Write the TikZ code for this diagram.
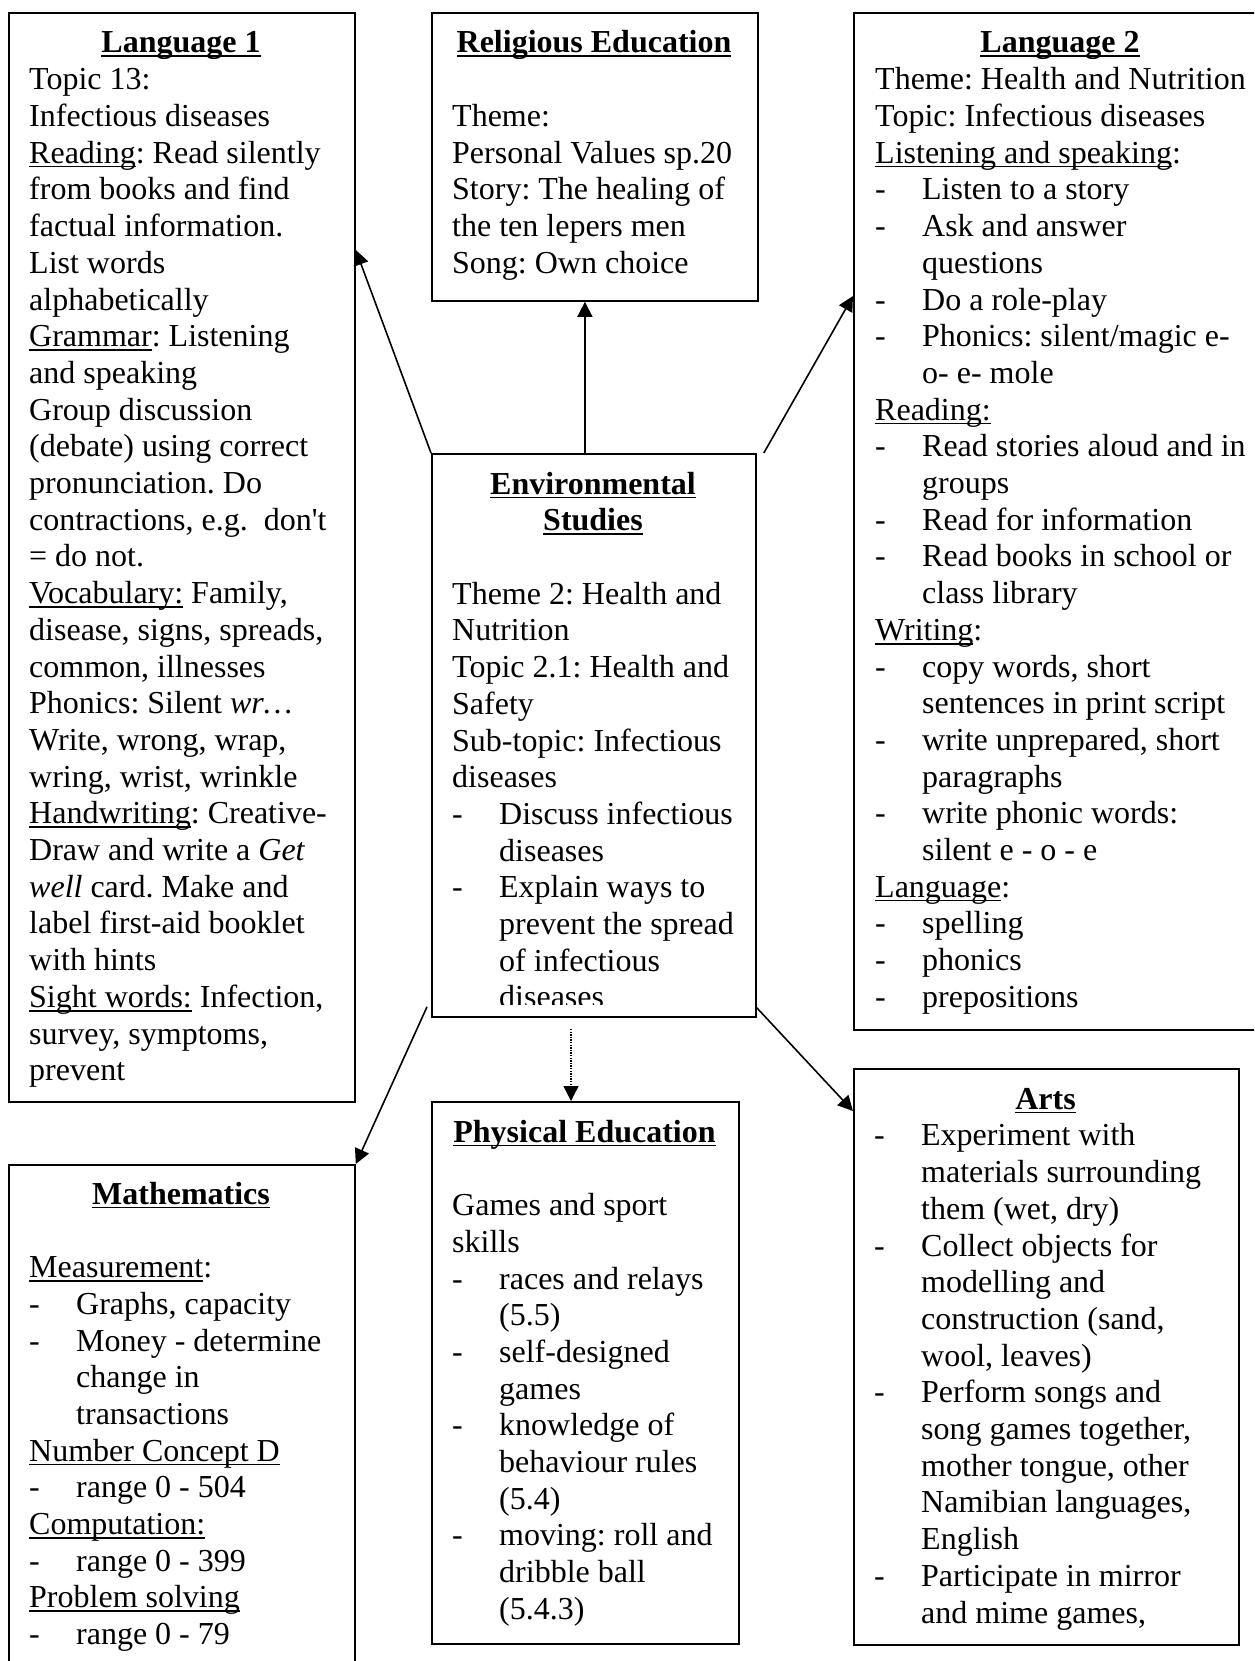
\documentclass[tikz,border=0pt]{standalone}
\usepackage{fontspec}
\setmainfont{Liberation Serif}[Ligatures=TeXOff]
\usetikzlibrary{arrows.meta}

\newcommand{\bodyfont}{\fontsize{32}{36.7}\selectfont\frenchspacing}
\newcommand{\normalspaces}{\spaceskip=0.25em plus 0.1em minus 0.05em\xspaceskip=\spaceskip\relax}
\newsavebox{\ulinebox}
\newcommand{\ulined}[1]{\leavevmode\sbox{\ulinebox}{#1}\rlap{\rule[-4.2pt]{\wd\ulinebox}{1.7pt}}\usebox{\ulinebox}}
\newcommand{\heading}[1]{\ulined{\textbf{#1}}}
\newcommand{\dashitem}[1]{\makebox[47pt][l]{-}#1}
\newcommand{\contline}{\hspace*{47pt}}

\tikzset{
  panel/.style={draw, line width=1.8pt, anchor=north west, inner sep=0pt},
  head/.style={anchor=base, inner sep=0pt, font=\bodyfont},
  body/.style={anchor=north west, inner sep=0pt, align=left, text width=420pt, font=\bodyfont,
               execute at begin node=\normalspaces},
  arr/.style={line width=1.6pt, -{Triangle[length=15pt,width=15pt]}},
  dotarr/.style={line width=1.4pt, dash pattern=on 1.4pt off 1.2pt, -{Triangle[length=15pt,width=15pt]}}
}

\begin{document}
\begin{tikzpicture}[x=1pt, y=-1pt]
\clip (0,0) rectangle (1254,1661);
\fill[white] (0,0) rectangle (1254,1661);

% ---------- panels ----------
\node[panel, minimum width=346pt, minimum height=1089pt] (l1)   at (8,12) {};
\node[panel, minimum width=326pt, minimum height=288pt]  (re)   at (431,12) {};
\node[panel, minimum width=414pt, minimum height=1017pt] (l2)   at (853,12) {};
\node[panel, minimum width=324pt, minimum height=563pt]  (env)  at (431,453) {};
\node[panel, minimum width=346pt, minimum height=520pt]  (math) at (8,1164) {};
\node[panel, minimum width=307pt, minimum height=542pt]  (pe)   at (431,1101) {};
\node[panel, minimum width=385pt, minimum height=576pt]  (arts) at (853,1068) {};

% ---------- Language 1 ----------
\node[head] (l1h) at (181,53) {\heading{Language 1}};
\node[body] (l1t) at (29,64) {\strut Topic 13:\\
Infectious diseases\\
\ulined{Reading}: Read silently\\
from books and find\\
factual information.\\
List words\\
alphabetically\\
\ulined{Grammar}: Listening\\
and speaking\\
Group discussion\\
(debate) using correct\\
pronunciation. Do\\
contractions, e.g.\ \ don't\\
= do not.\\
\ulined{Vocabulary:} Family,\\
disease, signs, spreads,\\
common, illnesses\\
Phonics: Silent \textit{wr…}\\
Write, wrong, wrap,\\
wring, wrist, wrinkle\\
\ulined{Handwriting}: Creative-\\
Draw and write a \textit{Get}\\
\textit{well} card. Make and\\
label first-aid booklet\\
with hints\\
\ulined{Sight words:} Infection,\\
survey, symptoms,\\
prevent};

% ---------- Religious Education ----------
\node[head] (reh) at (594,53) {\heading{Religious Education}};
\node[body] (ret) at (452,100.7) {\strut Theme:\\
Personal Values sp.20\\
Story: The healing of\\
the ten lepers men\\
Song: Own choice};

% ---------- Language 2 ----------
\node[head] (l2h) at (1060,53) {\heading{Language 2}};
\node[body] (l2t) at (875,64) {\strut Theme: Health and Nutrition\\
Topic: Infectious diseases\\
\ulined{Listening and speaking}:\\
\dashitem{Listen to a story}\\
\dashitem{Ask and answer}\\
\contline questions\\
\dashitem{Do a role-play}\\
\dashitem{Phonics: silent/magic e-}\\
\contline o- e- mole\\
\ulined{Reading:}\\
\dashitem{Read stories aloud and in}\\
\contline groups\\
\dashitem{Read for information}\\
\dashitem{Read books in school or}\\
\contline class library\\
\ulined{Writing}:\\
\dashitem{copy words, short}\\
\contline sentences in print script\\
\dashitem{write unprepared, short}\\
\contline paragraphs\\
\dashitem{write phonic words:}\\
\contline silent e - o - e\\
\ulined{Language}:\\
\dashitem{spelling}\\
\dashitem{phonics}\\
\dashitem{prepositions}};

% ---------- Environmental Studies ----------
\node[anchor=north, inner sep=0pt, align=center, font=\bodyfont] (envh) at (593,468.3)
  {\strut\heading{Environmental}\\ \heading{Studies}};
\begin{scope}
  \clip (431,453) rectangle (755,1004);
  \node[body] (envt) at (452,578.4) {\strut Theme 2: Health and\\
  Nutrition\\
  Topic 2.1: Health and\\
  Safety\\
  Sub-topic: Infectious\\
  diseases\\
  \dashitem{Discuss infectious}\\
  \contline diseases\\
  \dashitem{Explain ways to}\\
  \contline prevent the spread\\
  \contline of infectious\\
  \contline diseases};
\end{scope}

% ---------- Mathematics ----------
\node[head] (mathh) at (181,1204) {\heading{Mathematics}};
\node[body] (matht) at (29,1251.7) {\strut\ulined{Measurement}:\\
\dashitem{Graphs, capacity}\\
\dashitem{Money - determine}\\
\contline change in\\
\contline transactions\\
\ulined{Number Concept D}\\
\dashitem{range 0 - 504}\\
\ulined{Computation:}\\
\dashitem{range 0 - 399}\\
\ulined{Problem solving}\\
\dashitem{range 0 - 79}};

% ---------- Physical Education ----------
\node[head] (peh) at (584.5,1142) {\heading{Physical Education}};
\node[body] (pet) at (452,1189.7) {\strut Games and sport\\
skills\\
\dashitem{races and relays}\\
\contline (5.5)\\
\dashitem{self-designed}\\
\contline games\\
\dashitem{knowledge of}\\
\contline behaviour rules\\
\contline (5.4)\\
\dashitem{moving: roll and}\\
\contline dribble ball\\
\contline (5.4.3)};

% ---------- Arts ----------
\node[head] (artsh) at (1045.5,1109) {\heading{Arts}};
\node[body] (artst) at (874,1120) {\strut\dashitem{Experiment with}\\
\contline materials surrounding\\
\contline them (wet, dry)\\
\dashitem{Collect objects for}\\
\contline modelling and\\
\contline construction (sand,\\
\contline wool, leaves)\\
\dashitem{Perform songs and}\\
\contline song games together,\\
\contline mother tongue, other\\
\contline Namibian languages,\\
\contline English\\
\dashitem{Participate in mirror}\\
\contline and mime games,};

% ---------- connectors ----------
\draw[arr] ([xshift=-9pt]env.north) -- ([xshift=-10pt]re.south);
\draw[arr] (env.north west) -- (l1.east |- 0,250);
\draw[arr] ([xshift=7pt]env.north east) -- (l2.west |- 0,296);
\draw[arr] ([xshift=-4pt,yshift=11pt]env.south west) -- (math.north east);
\draw[arr] ([yshift=10pt]env.south east) -- (arts.west |- 0,1111);
\coordinate (dotstart) at (571,1029);
\draw[dotarr] (dotstart) -- (dotstart |- pe.north);
\end{tikzpicture}
\end{document}
